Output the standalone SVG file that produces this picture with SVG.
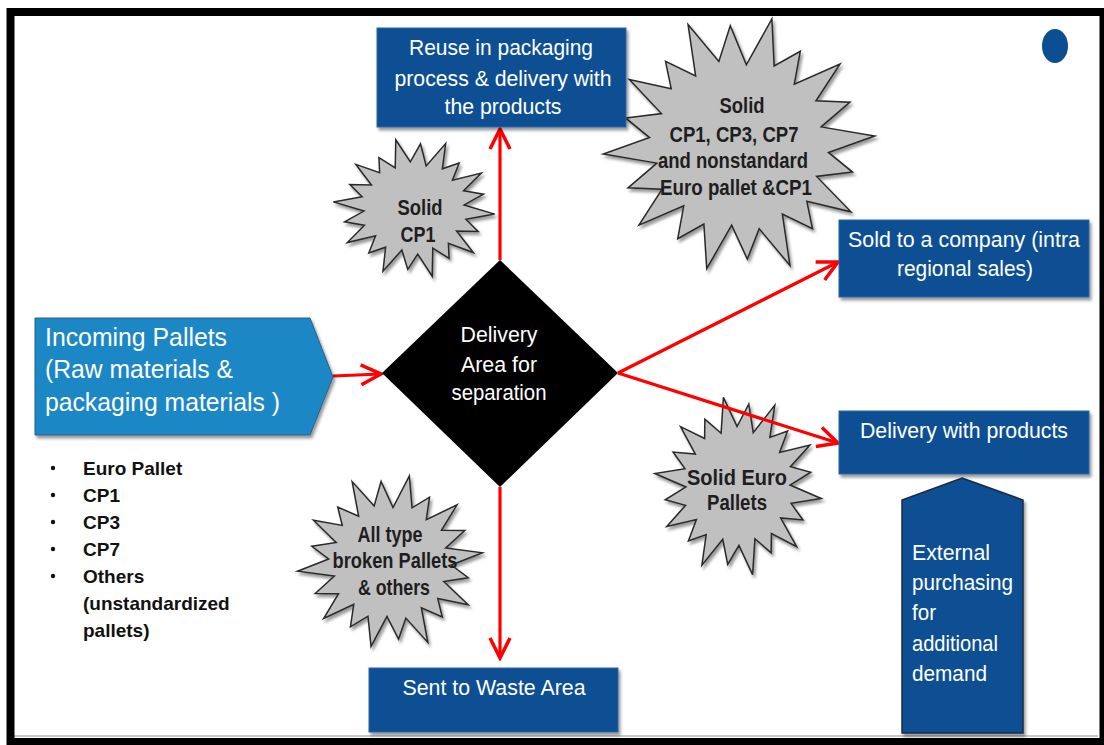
<svg xmlns="http://www.w3.org/2000/svg" xmlns:xlink="http://www.w3.org/1999/xlink" width="1104" height="745" viewBox="0 0 1104 745">
  <style>
    .box { fill: #0b4f92; stroke: #2f66a3; stroke-width: 1; }
    .boxtxt { font-family: "Liberation Sans", Arial, sans-serif; font-size: 22px; fill: #ffffff; text-anchor: middle; }
    .lefttxt { font-family: "Liberation Sans", Arial, sans-serif; font-size: 22px; fill: #ffffff; }
    .burst { fill: #c0c0c0; stroke: #2a2a2a; stroke-width: 1.5; stroke-linejoin: miter; }
    .bursttxt { font-family: "Liberation Sans", Arial, sans-serif; font-size: 22px; font-weight: bold; fill: #1e1e1e; text-anchor: middle; }
    .list { font-family: "Liberation Sans", Arial, sans-serif; font-size: 19px; font-weight: bold; fill: #111111; }
    .flow { fill: none; stroke: #ff0000; stroke-width: 3.2; marker-end: url(#vhead); }
  </style>
  <defs>
    <filter id="shadow" x="-20%" y="-20%" width="140%" height="140%">
      <feDropShadow dx="2" dy="3" stdDeviation="1.5" flood-color="#000000" flood-opacity="0.4"/>
    </filter>
    <marker id="vhead" viewBox="-24 -13 27 26" refX="0" refY="0" markerWidth="27" markerHeight="26" markerUnits="userSpaceOnUse" orient="auto">
      <path d="M-20,-10 L0,0 L-20,10" fill="none" stroke="#ff0000" stroke-width="3.5"/>
    </marker>
    <!-- unit starburst, radius 100, scaled per use -->
    <polygon id="burst" vector-effect="non-scaling-stroke" points="100,0 65.2,10.3 81.8,26.6 55.2,28.1 78.5,57 46.7,46.7 49.4,68 28.1,55.2 30.9,95.1 10.3,65.2 0,88 -9.7,61.2 -30.3,93.2 -30,58.8 -50,68.8 -43.8,43.8 -77.7,56.4 -58.8,30 -83.7,27.2 -61.2,9.7 -100,0 -65.2,-10.3 -81.8,-26.6 -55.2,-28.1 -76.9,-55.8 -46.7,-46.7 -49.4,-68 -28.1,-55.2 -30.9,-95.1 -10.3,-65.2 0,-92 9.7,-61.2 30.9,-95.1 30,-58.8 50,-68.8 43.8,-43.8 78.5,-57 58.8,-30 83.7,-27.2 61.2,-9.7"/>
  </defs>

  <!-- page background and frame -->
  <rect x="0" y="0" width="1104" height="745" fill="#ffffff"/>
  <line x1="14" y1="736" x2="1098" y2="736" stroke="#c8c8c8" stroke-width="2"/>
  <rect x="10.5" y="12" width="1093" height="730" fill="none" stroke="#000000" stroke-width="8"/>

  <!-- decorative dot -->
  <ellipse cx="1055" cy="46" rx="13" ry="17" fill="#0b4f92"/>

  <!-- starbursts -->
  <g id="burst-solid-cp1">
    <g filter="url(#shadow)">
      <use xlink:href="#burst" class="burst" transform="translate(414,208) scale(0.81,0.70) rotate(5)"/>
    </g>
    <text class="bursttxt" x="420" y="215" textLength="45" lengthAdjust="spacingAndGlyphs">Solid</text>
    <text class="bursttxt" x="418" y="242" textLength="35" lengthAdjust="spacingAndGlyphs">CP1</text>
  </g>

  <g id="burst-solid-mixed">
    <g filter="url(#shadow)">
      <use xlink:href="#burst" class="burst" transform="translate(739,145) scale(1.36,1.30) rotate(-4)"/>
    </g>
    <text class="bursttxt" x="742" y="113" textLength="45" lengthAdjust="spacingAndGlyphs">Solid</text>
    <text class="bursttxt" x="734" y="142" textLength="129" lengthAdjust="spacingAndGlyphs">CP1, CP3, CP7</text>
    <text class="bursttxt" x="733" y="168" textLength="150" lengthAdjust="spacingAndGlyphs">and nonstandard</text>
    <text class="bursttxt" x="736" y="195" textLength="152" lengthAdjust="spacingAndGlyphs">Euro pallet &amp;CP1</text>
  </g>

  <g id="burst-solid-euro">
    <g filter="url(#shadow)">
      <use xlink:href="#burst" class="burst" transform="translate(738,486) scale(0.84,0.90) rotate(8)"/>
    </g>
    <text class="bursttxt" x="737" y="485" textLength="100" lengthAdjust="spacingAndGlyphs">Solid  Euro</text>
    <text class="bursttxt" x="737" y="510" textLength="60" lengthAdjust="spacingAndGlyphs">Pallets</text>
  </g>

  <g id="burst-broken">
    <g filter="url(#shadow)">
      <use xlink:href="#burst" class="burst" transform="translate(390,562) scale(0.93,0.88) rotate(-6)"/>
    </g>
    <text class="bursttxt" x="390" y="542" textLength="65" lengthAdjust="spacingAndGlyphs">All type</text>
    <text class="bursttxt" x="395" y="568" textLength="125" lengthAdjust="spacingAndGlyphs">broken Pallets</text>
    <text class="bursttxt" x="394" y="595" textLength="72" lengthAdjust="spacingAndGlyphs">&amp; others</text>
  </g>

  <!-- connectors -->
  <g id="connectors">
    <line class="flow" x1="333" y1="376" x2="381" y2="374"/>
    <line class="flow" x1="500" y1="260" x2="500" y2="129"/>
    <line class="flow" x1="618" y1="373" x2="838" y2="262"/>
    <line class="flow" x1="618" y1="373" x2="838" y2="443"/>
    <line class="flow" x1="500" y1="487" x2="500" y2="658"/>
  </g>

  <!-- incoming pallets -->
  <g id="incoming">
    <polygon points="35,318 310,318 333,377 310,435 35,435" fill="#1b87c5" stroke="#2a5f86" stroke-width="1" filter="url(#shadow)"/>
    <text class="lefttxt" style="font-size:25px" x="45" y="346" textLength="182" lengthAdjust="spacingAndGlyphs">Incoming Pallets</text>
    <text class="lefttxt" style="font-size:25px" x="45" y="378" textLength="188" lengthAdjust="spacingAndGlyphs">(Raw materials &amp;</text>
    <text class="lefttxt" style="font-size:25px" x="45" y="411" textLength="235" lengthAdjust="spacingAndGlyphs">packaging materials )</text>
  </g>

  <!-- pallet types -->
  <g id="pallet-list">
    <g fill="#111111">
      <circle cx="53" cy="468" r="2.2"/>
      <circle cx="53" cy="495" r="2.2"/>
      <circle cx="53" cy="522" r="2.2"/>
      <circle cx="53" cy="549" r="2.2"/>
      <circle cx="53" cy="576" r="2.2"/>
    </g>
    <text class="list" x="83" y="475">Euro Pallet</text>
    <text class="list" x="83" y="502">CP1</text>
    <text class="list" x="83" y="529">CP3</text>
    <text class="list" x="83" y="556">CP7</text>
    <text class="list" x="83" y="583">Others</text>
    <text class="list" x="83" y="610">(unstandardized</text>
    <text class="list" x="83" y="637">pallets)</text>
  </g>

  <!-- separation area -->
  <g id="separation">
    <polygon points="500,260 618,373 500,487 382,373" fill="#000000"/>
    <text class="boxtxt" x="499" y="342" textLength="77" lengthAdjust="spacingAndGlyphs">Delivery</text>
    <text class="boxtxt" x="499" y="372" textLength="76" lengthAdjust="spacingAndGlyphs">Area for</text>
    <text class="boxtxt" x="499" y="400" textLength="95" lengthAdjust="spacingAndGlyphs">separation</text>
  </g>

  <!-- destinations -->
  <g id="reuse">
    <rect class="box" x="377" y="28" width="249" height="99" filter="url(#shadow)"/>
    <text class="boxtxt" x="501" y="55" textLength="184" lengthAdjust="spacingAndGlyphs">Reuse in packaging</text>
    <text class="boxtxt" x="503" y="86" textLength="217" lengthAdjust="spacingAndGlyphs">process &amp; delivery with</text>
    <text class="boxtxt" x="503" y="114" textLength="117" lengthAdjust="spacingAndGlyphs">the products</text>
  </g>

  <g id="sold">
    <rect class="box" x="839" y="220" width="250" height="77" filter="url(#shadow)"/>
    <text class="boxtxt" x="964" y="247" textLength="232" lengthAdjust="spacingAndGlyphs">Sold to a company (intra</text>
    <text class="boxtxt" x="965" y="276" textLength="136" lengthAdjust="spacingAndGlyphs">regional sales)</text>
  </g>

  <g id="delivery">
    <rect class="box" x="839" y="411" width="250" height="63" filter="url(#shadow)"/>
    <text class="boxtxt" x="964" y="438" textLength="208" lengthAdjust="spacingAndGlyphs">Delivery with products</text>
  </g>

  <g id="waste">
    <rect class="box" x="369" y="668" width="249" height="64" filter="url(#shadow)"/>
    <text class="boxtxt" x="494" y="695" textLength="183" lengthAdjust="spacingAndGlyphs">Sent to Waste Area</text>
  </g>

  <g id="external">
    <polygon points="962,478 1023,500 1023,733 902,733 902,500" fill="#0b4f92" stroke="#1b2b45" stroke-width="1.5" filter="url(#shadow)"/>
    <text class="lefttxt" x="912" y="560" textLength="78" lengthAdjust="spacingAndGlyphs">External</text>
    <text class="lefttxt" x="912" y="590" textLength="101" lengthAdjust="spacingAndGlyphs">purchasing</text>
    <text class="lefttxt" x="912" y="620" textLength="24" lengthAdjust="spacingAndGlyphs">for</text>
    <text class="lefttxt" x="912" y="651" textLength="86" lengthAdjust="spacingAndGlyphs">additional</text>
    <text class="lefttxt" x="912" y="681" textLength="75" lengthAdjust="spacingAndGlyphs">demand</text>
  </g>
</svg>
